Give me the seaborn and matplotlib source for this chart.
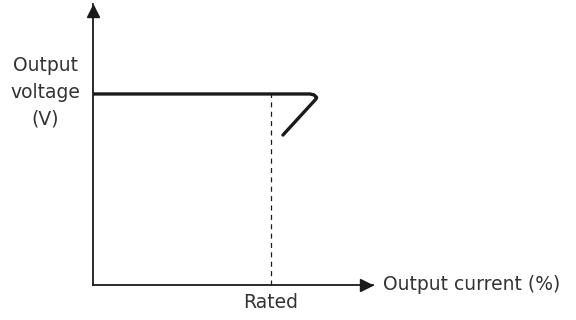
import matplotlib
matplotlib.use('Agg')
import matplotlib.pyplot as plt
import seaborn as sns
import pandas as pd

# Output characteristic (current in % of rated, voltage in % of set value)
current = [0, 121.9, 124.2, 125.6, 125.3, 106.7]
voltage = [100, 100, 99.5, 98.2, 97.4, 78.5]
rated_current = 100
rated_voltage = 100

x_label = 'Output current (%)'
y_label = 'Output\nvoltage\n(V)'
rated_label = 'Rated'

sns.set_style('white')
plt.rcParams['font.family'] = ['DejaVu Sans']

df = pd.DataFrame({'current': current, 'voltage': voltage})

fig = plt.figure(figsize=(5.76, 3.2), dpi=100)
ax = fig.add_axes([93 / 576, 35 / 320, 280 / 576, 281 / 320])

# characteristic curve (keep point order, no sorting)
sns.lineplot(data=df, x='current', y='voltage', sort=False, color='#1a1a1a',
             linewidth=2.4, solid_capstyle='round', solid_joinstyle='round', ax=ax)

# rated marker line
ax.plot([rated_current, rated_current], [0, rated_voltage], color='#1a1a1a',
        linewidth=0.9, linestyle=(0, (4, 3.5)))

ax.set_xlim(0, 157.3)
ax.set_ylim(0, 147.1)

for side in ['top', 'right']:
    ax.spines[side].set_visible(False)
for side in ['left', 'bottom']:
    ax.spines[side].set_linewidth(1.3)
    ax.spines[side].set_color('#1a1a1a')

# arrow heads at the end of the axes
ax.plot(0.975, 0, marker='>', markersize=9, color='#1a1a1a',
        transform=ax.get_yaxis_transform(), clip_on=False)
ax.plot(0, 0.975, marker='^', markersize=9, color='#1a1a1a',
        transform=ax.get_xaxis_transform(), clip_on=False)

ax.set_xticks([])
ax.set_yticks([])
ax.set_xlabel('')
ax.set_ylabel('')

ax.text(1.035, 0, x_label, transform=ax.transAxes, ha='left', va='center',
        fontsize=13.5, color='#333333')
ax.text(rated_current, -9, rated_label, ha='center', va='center',
        fontsize=13.5, color='#333333')
ax.text(-0.17, rated_voltage + 1, y_label, transform=ax.get_yaxis_transform(),
        ha='center', va='center', fontsize=13.5, color='#333333', linespacing=1.5)

fig.savefig('out.png', dpi=100)
